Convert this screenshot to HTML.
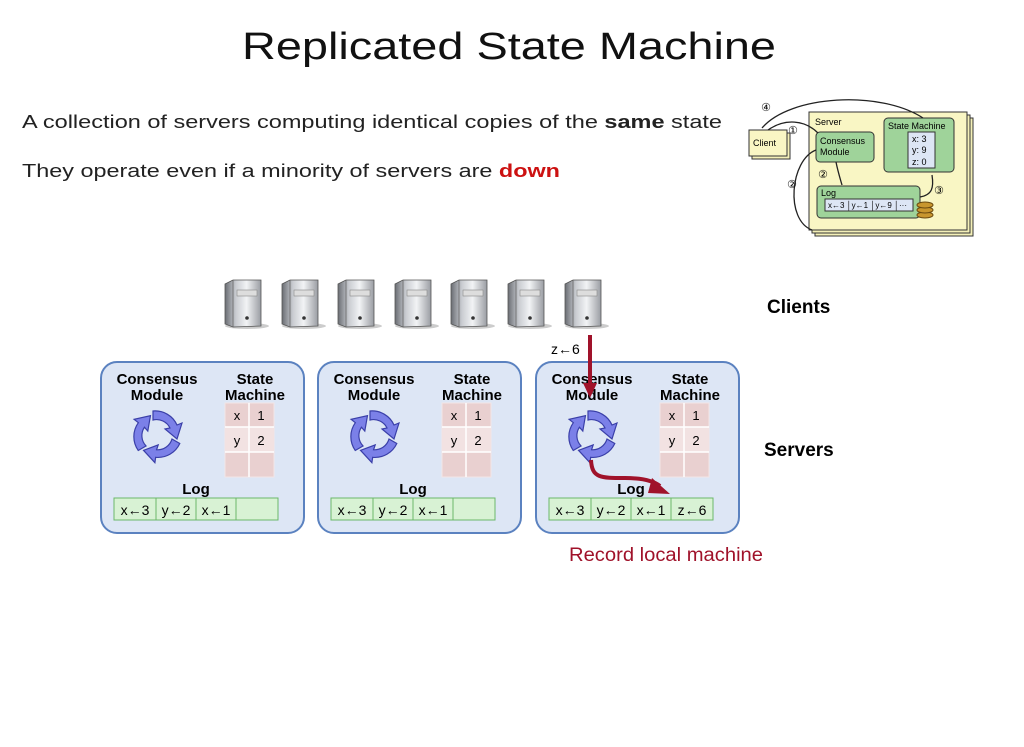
<!DOCTYPE html>
<html><head><meta charset="utf-8"><style>
body{margin:0;background:#fff;width:1024px;height:747px;overflow:hidden}
svg{display:block}
</style></head><body>
<svg width="1024" height="747" viewBox="0 0 1024 747" xmlns="http://www.w3.org/2000/svg" font-family="Liberation Sans, DejaVu Sans, sans-serif">
<defs>
<linearGradient id="srv" x1="0" x2="1"><stop offset="0" stop-color="#6a6d73"/><stop offset="0.3" stop-color="#c9ccd1"/><stop offset="0.6" stop-color="#f2f3f5"/><stop offset="1" stop-color="#9a9da3"/></linearGradient>
<g id="server">
<ellipse cx="22" cy="46" rx="22" ry="3" fill="#ccc"/>
<path d="M0 4 L8 0 L36 0 L36 46 L8 47 L0 44 Z" fill="url(#srv)" stroke="#555" stroke-width="0.8"/>
<path d="M8 0 L8 47" stroke="#666" stroke-width="0.8"/>
<rect x="12" y="10" width="20" height="6" fill="#ddd" stroke="#888" stroke-width="0.6"/>
<circle cx="22" cy="38" r="1.8" fill="#333"/>
</g>
<g id="cyc">
<path d="M-4 -24 A24 24 0 0 1 20 -10 L25 -12 L20 4 L8 -6 L13 -7 A15 15 0 0 0 -4 -15 Z" fill="#7b80e8" stroke="#3a3fa8" stroke-width="1.2"/>
<path d="M-4 -24 A24 24 0 0 1 20 -10 L25 -12 L20 4 L8 -6 L13 -7 A15 15 0 0 0 -4 -15 Z" fill="#7b80e8" stroke="#3a3fa8" stroke-width="1.2" transform="rotate(120)"/>
<path d="M-4 -24 A24 24 0 0 1 20 -10 L25 -12 L20 4 L8 -6 L13 -7 A15 15 0 0 0 -4 -15 Z" fill="#7b80e8" stroke="#3a3fa8" stroke-width="1.2" transform="rotate(240)"/>
</g>
<g id="box">
<rect x="0" y="0" width="203" height="171" rx="16" fill="#dde6f5" stroke="#5b82c0" stroke-width="2"/>
<text x="56" y="22" font-size="15" font-weight="bold" text-anchor="middle">Consensus</text>
<text x="56" y="38" font-size="15" font-weight="bold" text-anchor="middle">Module</text>
<text x="154" y="22" font-size="15" font-weight="bold" text-anchor="middle">State</text>
<text x="154" y="38" font-size="15" font-weight="bold" text-anchor="middle">Machine</text>
<rect x="124" y="41" width="49" height="74" fill="#e9d0d0" stroke="#f2e6e6"/>
<rect x="124" y="65" width="49" height="25" fill="#f2e2e2"/>
<line x1="148" y1="41" x2="148" y2="115" stroke="#fff" stroke-width="1.5"/>
<line x1="124" y1="65" x2="173" y2="65" stroke="#fff" stroke-width="1.5"/>
<line x1="124" y1="90" x2="173" y2="90" stroke="#fff" stroke-width="1.5"/>
<text x="136" y="58" font-size="13" text-anchor="middle">x</text><text x="160" y="58" font-size="13" text-anchor="middle">1</text>
<text x="136" y="83" font-size="13" text-anchor="middle">y</text><text x="160" y="83" font-size="13" text-anchor="middle">2</text>
<use href="#cyc" x="56" y="73"/>
<text x="95" y="132" font-size="15" font-weight="bold" text-anchor="middle">Log</text>
<rect x="13" y="136" width="164" height="22" fill="#d8f2d4" stroke="#6cb86a"/>
<line x1="55" y1="136" x2="55" y2="158" stroke="#6cb86a"/>
<line x1="95" y1="136" x2="95" y2="158" stroke="#6cb86a"/>
<line x1="135" y1="136" x2="135" y2="158" stroke="#6cb86a"/>
<text x="34" y="153" font-size="14" text-anchor="middle">x←3</text>
<text x="75" y="153" font-size="14" text-anchor="middle">y←2</text>
<text x="115" y="153" font-size="14" text-anchor="middle">x←1</text>
</g>
</defs>

<text x="242" y="59" font-size="38" fill="#111" textLength="534" lengthAdjust="spacingAndGlyphs">Replicated State Machine</text>
<text x="22" y="128" font-size="18" fill="#222" textLength="700" lengthAdjust="spacingAndGlyphs">A collection of servers computing identical copies of the <tspan font-weight="bold">same</tspan> state</text>
<text x="22" y="177" font-size="18" fill="#222" textLength="538" lengthAdjust="spacingAndGlyphs">They operate even if a minority of servers are <tspan font-weight="bold" fill="#cc1111">down</tspan></text>

<!-- small diagram -->
<g font-size="9">
<rect x="815" y="118" width="158" height="118" fill="#f4f0b8" stroke="#333"/>
<rect x="812" y="115" width="158" height="118" fill="#f4f0b8" stroke="#333"/>
<rect x="809" y="112" width="158" height="118" fill="#f9f6c4" stroke="#333"/>
<rect x="752" y="133" width="38" height="26" fill="#f4f0b8" stroke="#333"/>
<rect x="749" y="130" width="38" height="26" fill="#f9f6c4" stroke="#333"/>
<text x="753" y="146">Client</text>
<text x="815" y="125">Server</text>
<rect x="816" y="132" width="58" height="30" rx="4" fill="#9fd39a" stroke="#333"/>
<text x="820" y="144">Consensus</text><text x="820" y="155">Module</text>
<rect x="884" y="118" width="70" height="54" rx="4" fill="#9fd39a" stroke="#333"/>
<text x="888" y="129">State Machine</text>
<rect x="908" y="132" width="27" height="36" fill="#dde6f5" stroke="#333"/>
<text x="912" y="142">x: 3</text><text x="912" y="153">y: 9</text><text x="912" y="165">z: 0</text>
<rect x="817" y="186" width="103" height="32" rx="4" fill="#9fd39a" stroke="#333"/>
<text x="821" y="196">Log</text>
<rect x="825" y="199" width="88" height="12" fill="#dde6f5" stroke="#333"/>
<text x="828" y="208" font-size="8">x←3 │y←1 │y←9 │···</text>
<ellipse cx="925" cy="215" rx="8" ry="3" fill="#c8962e" stroke="#6a4a10"/>
<ellipse cx="925" cy="210" rx="8" ry="3" fill="#c8962e" stroke="#6a4a10"/>
<ellipse cx="925" cy="205" rx="8" ry="3" fill="#c8962e" stroke="#6a4a10"/>
<g fill="none" stroke="#222" stroke-width="1.3">
<path d="M923 118 C880 90 790 95 762 128"/>
<path d="M768 130 C785 118 805 120 818 133"/>
<path d="M836 162 C838 172 840 178 842 185"/>
<path d="M920 197 C932 195 934 188 932 175"/>
<path d="M816 150 C790 160 785 220 812 230"/>
</g>
<g font-size="11"><text x="761" y="111">④</text><text x="788" y="134">①</text><text x="818" y="178">②</text><text x="787" y="188">②</text><text x="934" y="194">③</text></g>
</g>

<!-- clients -->
<use href="#server" x="225" y="280"/><use href="#server" x="282" y="280"/><use href="#server" x="338" y="280"/>
<use href="#server" x="395" y="280"/><use href="#server" x="451" y="280"/><use href="#server" x="508" y="280"/>
<use href="#server" x="565" y="280"/>
<text x="767" y="313" font-size="19" font-weight="bold">Clients</text>
<text x="764" y="456" font-size="19" font-weight="bold">Servers</text>

<use href="#box" x="101" y="362"/>
<use href="#box" x="318" y="362"/>
<use href="#box" x="536" y="362"/>
<rect x="672" y="499" width="40" height="20" fill="#d8f2d4"/>
<line x1="671" y1="498" x2="671" y2="520" stroke="#6cb86a"/>
<text x="692" y="515" font-size="14" text-anchor="middle">z←6</text>
<text x="551" y="354" font-size="14">z←6</text>

<g stroke="#a0122a" stroke-width="4" fill="none">
<path d="M590 335 L590 385"/>
<path d="M591 460 C592 478 600 478 625 478 C645 478 655 482 660 486"/>
</g>
<path d="M583 383 L597 383 L590 398 Z" fill="#a0122a"/>
<path d="M652 478 L670 494 L648 493 Z" fill="#a0122a"/>
<text x="569" y="561" font-size="19" fill="#a0122a" textLength="194" lengthAdjust="spacingAndGlyphs">Record local machine</text>
</svg>
</body></html>
